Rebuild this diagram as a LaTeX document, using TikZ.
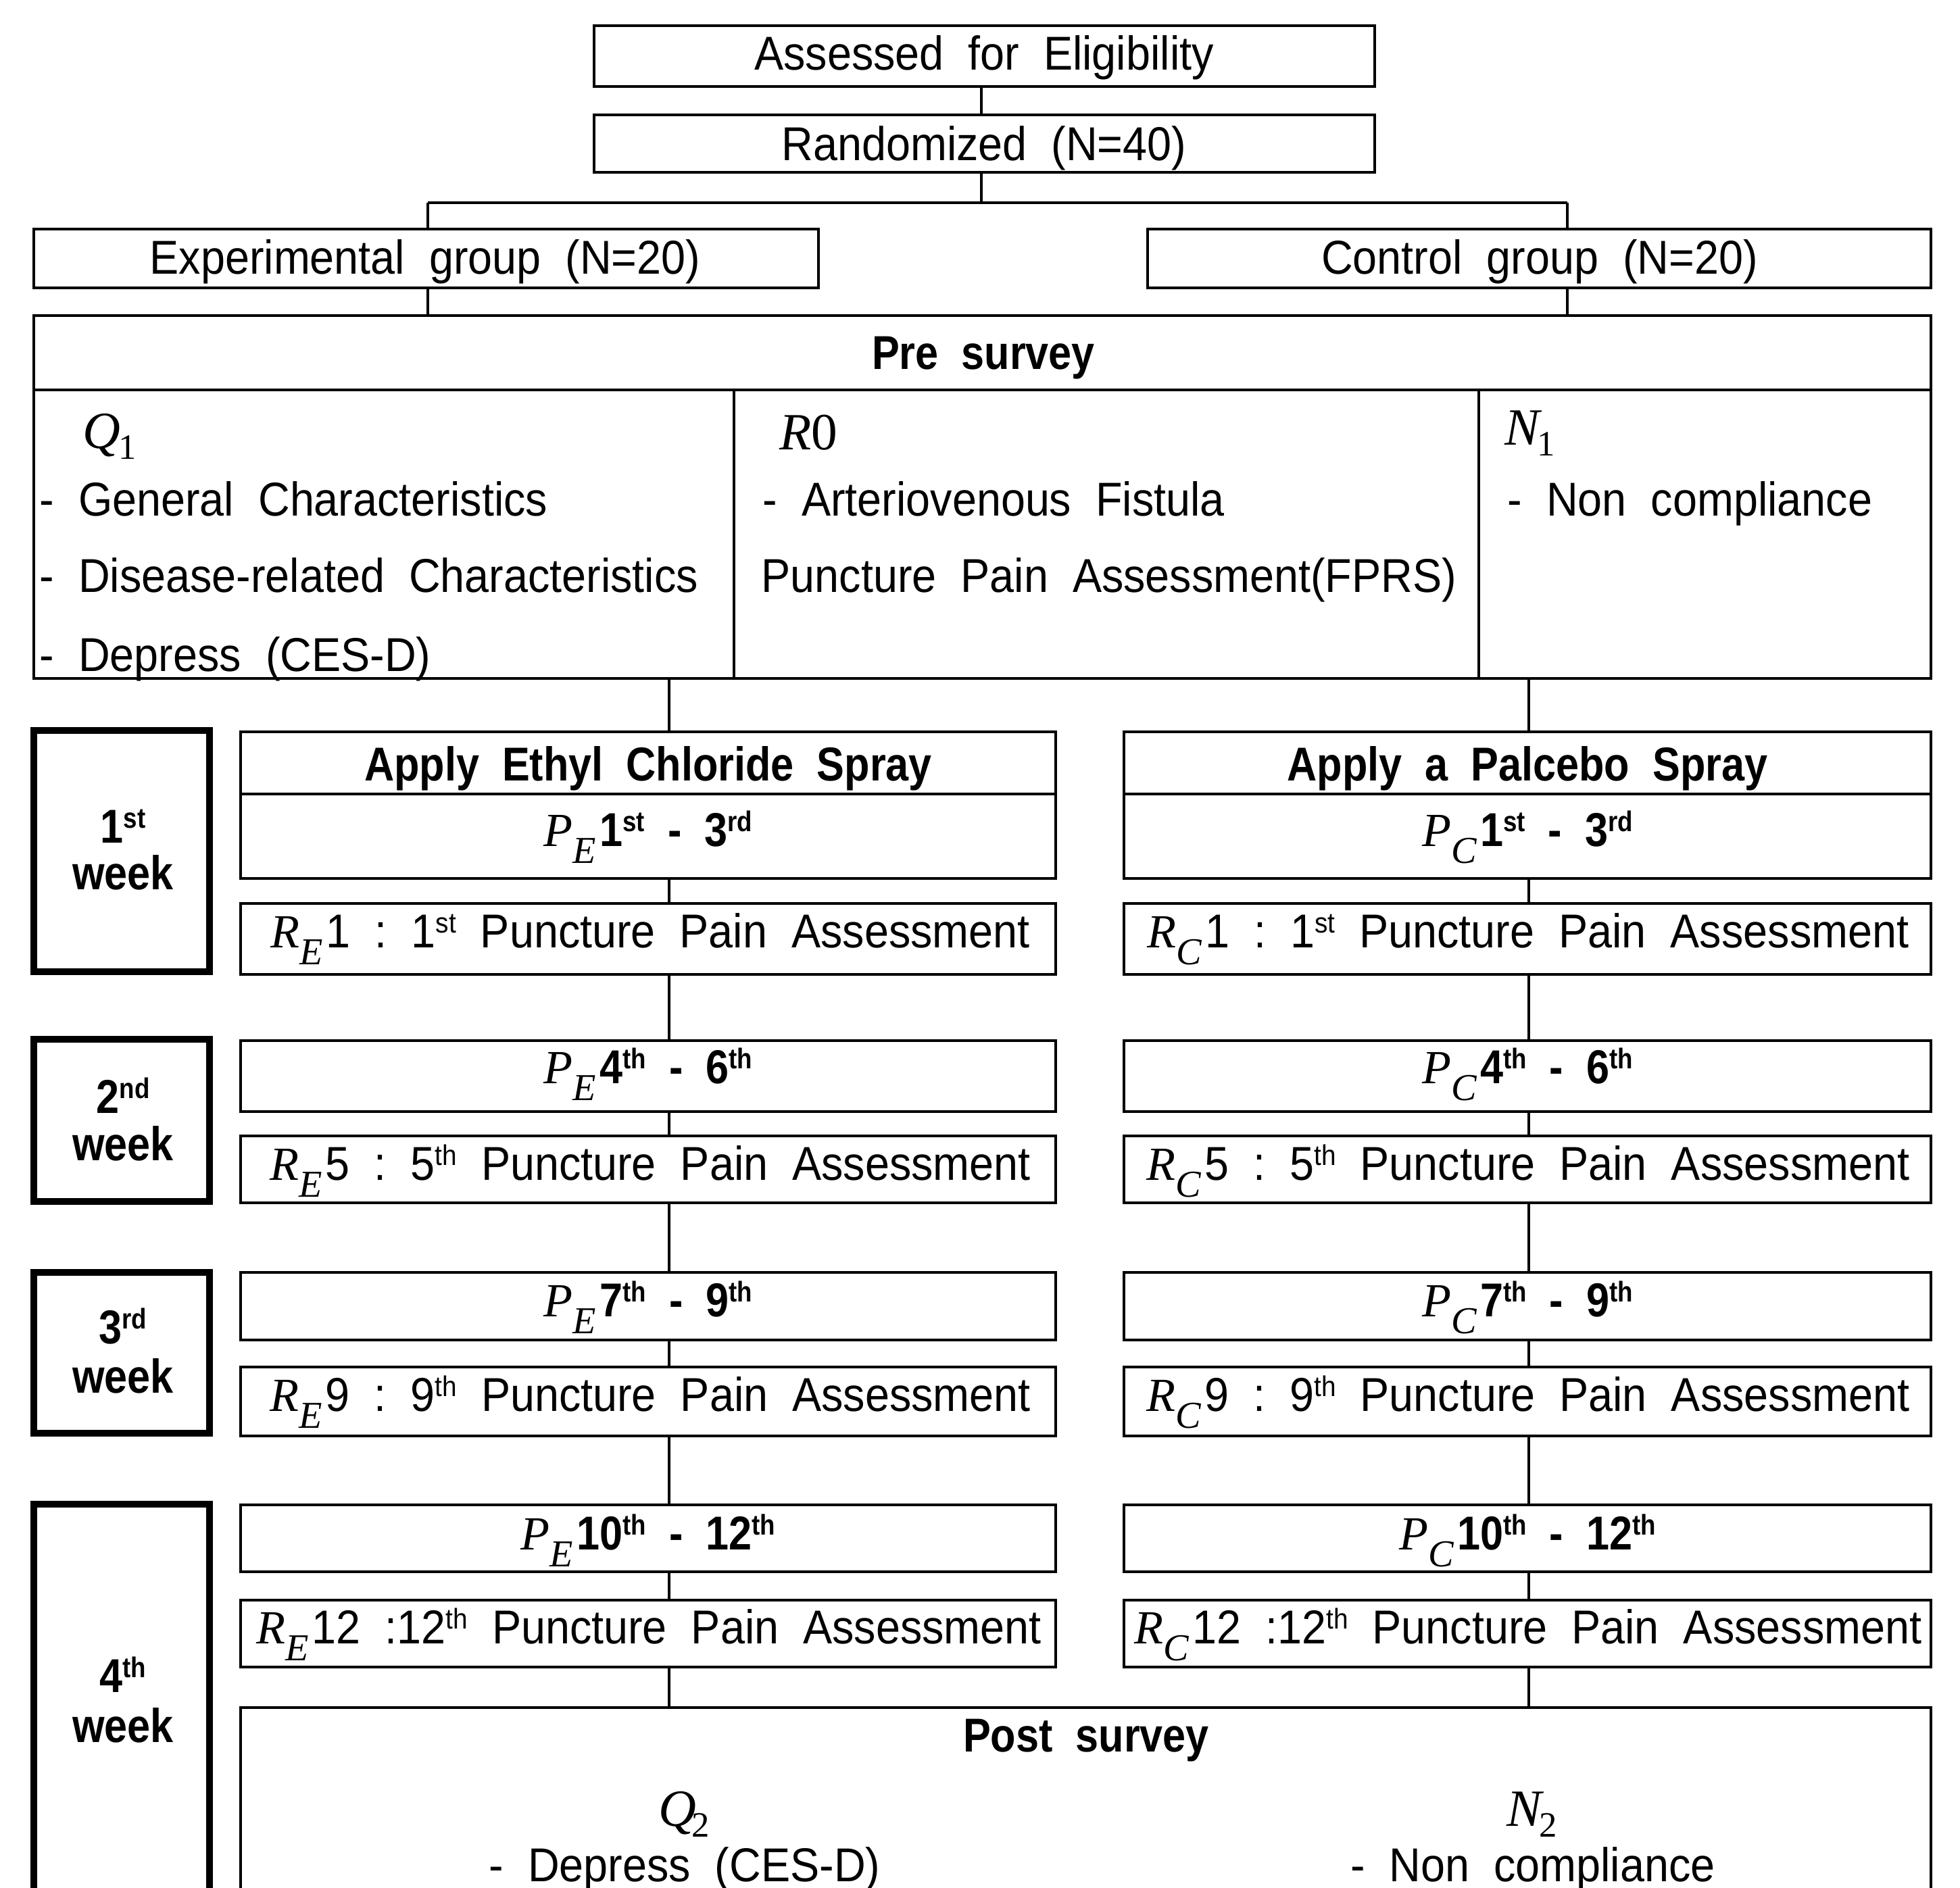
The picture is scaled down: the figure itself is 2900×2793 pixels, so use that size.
\documentclass[tikz,border=0pt]{standalone}
\usepackage{fontspec}
\setmainfont{Liberation Sans}[FakeStretch=0.92, BoldFeatures={FakeStretch=0.87}]
\newfontfamily\serfont{Liberation Serif}
\usetikzlibrary{fit}
% italic variable with subscript letter (P_E, R_C ...)
\newcommand\vsub[2]{{\serfont\mdseries\itshape #1}\raisebox{-0.25cm}{\fontsize{16}{16}\selectfont\serfont\mdseries\itshape #2}\kern1.5pt}
% italic variable with numeric subscript (Q_1, N_2 ...)
\newcommand\vnum[3][-1pt]{{\fontsize{22}{22}\selectfont\serfont\itshape #2}\kern#1\raisebox{-0.16cm}{\fontsize{15}{15}\selectfont\serfont #3}}
\newcommand\sups[1]{\raisebox{0.22cm}{\fontsize{12}{12}\selectfont #1}}
\begin{document}
\begin{tikzpicture}[x=0.01cm,y=-0.01cm,
  box/.style={draw, line width=1.15pt, inner sep=0pt, outer sep=0pt},
  wkbox/.style={draw, line width=2.6pt, inner sep=0pt, outer sep=0pt},
  conn/.style={line width=0.9pt},
  txt/.style={inner sep=0pt, anchor=base, font=\fontsize{20}{24}\selectfont},
  txtl/.style={txt, anchor=base west},
  btxt/.style={txt, font=\fontsize{20}{24}\selectfont\bfseries}]
\useasboundingbox (0,0) rectangle (2900,2793);
\clip (0,0) rectangle (2900,2793);
% top boxes
\node[box, fit={(879,38) (2034,128)}] (assess) {};
\node[box, fit={(879,170) (2034,255)}] (rand) {};
\node[box, fit={(50,339) (1211,426)}] (exp) {};
\node[box, fit={(1698,339) (2857,426)}] (ctrl) {};
\node[box, fit={(50,467) (2857,1004)}] (pre) {};
\draw[box] (50,577) -- (2857,577);
\draw[box] (1086,577) -- (1086,1004);
\draw[box] (2188,577) -- (2188,1004);
% week boxes
\node[wkbox, fit={(50,1081) (310,1438)}] (w1) {};
\node[wkbox, fit={(50,1538) (310,1778)}] (w2) {};
\node[wkbox, fit={(50,1883) (310,2121)}] (w3) {};
\node[wkbox, fit={(50,2226) (310,2950)}] (w4) {};
% left column
\node[box, fit={(356,1083) (1562,1175)}] (apE) {};
\node[box, fit={(356,1175) (1562,1300)}] (peA) {};
\node[box, fit={(356,1337) (1562,1442)}] (reA) {};
\node[box, fit={(356,1540) (1562,1645)}] (peB) {};
\node[box, fit={(356,1681) (1562,1780)}] (reB) {};
\node[box, fit={(356,1883) (1562,1983)}] (peC) {};
\node[box, fit={(356,2023) (1562,2125)}] (reC) {};
\node[box, fit={(356,2227) (1562,2326)}] (peD) {};
\node[box, fit={(356,2368) (1562,2467)}] (reD) {};
% right column
\node[box, fit={(1663,1083) (2857,1175)}] (apC) {};
\node[box, fit={(1663,1175) (2857,1300)}] (pcA) {};
\node[box, fit={(1663,1337) (2857,1442)}] (rcA) {};
\node[box, fit={(1663,1540) (2857,1645)}] (pcB) {};
\node[box, fit={(1663,1681) (2857,1780)}] (rcB) {};
\node[box, fit={(1663,1883) (2857,1983)}] (pcC) {};
\node[box, fit={(1663,2023) (2857,2125)}] (rcC) {};
\node[box, fit={(1663,2227) (2857,2326)}] (pcD) {};
\node[box, fit={(1663,2368) (2857,2467)}] (rcD) {};
\node[box, fit={(356,2527) (2857,2950)}] (post) {};
% connectors
\coordinate (mc) at (1452,0);
\coordinate (brM) at (1452,300);
\coordinate (brL) at (633,300);
\coordinate (brR) at (2319,300);
\coordinate (lc) at (990,0);
\coordinate (rc) at (2262,0);
\draw[conn] (assess.south -| mc) -- (rand.north -| mc);
\draw[conn] (rand.south -| mc) -- (brM);
\draw[box] (brL) -- (brR);
\draw[conn] (brL) -- (exp.north -| brL);
\draw[conn] (brR) -- (ctrl.north -| brR);
\draw[conn] (exp.south -| brL) -- (pre.north -| brL);
\draw[conn] (ctrl.south -| brR) -- (pre.north -| brR);
\draw[conn] (pre.south -| lc) -- (apE.north -| lc);
\draw[conn] (peA.south -| lc) -- (reA.north -| lc);
\draw[conn] (reA.south -| lc) -- (peB.north -| lc);
\draw[conn] (peB.south -| lc) -- (reB.north -| lc);
\draw[conn] (reB.south -| lc) -- (peC.north -| lc);
\draw[conn] (peC.south -| lc) -- (reC.north -| lc);
\draw[conn] (reC.south -| lc) -- (peD.north -| lc);
\draw[conn] (peD.south -| lc) -- (reD.north -| lc);
\draw[conn] (reD.south -| lc) -- (post.north -| lc);
\draw[conn] (pre.south -| rc) -- (apC.north -| rc);
\draw[conn] (pcA.south -| rc) -- (rcA.north -| rc);
\draw[conn] (rcA.south -| rc) -- (pcB.north -| rc);
\draw[conn] (pcB.south -| rc) -- (rcB.north -| rc);
\draw[conn] (rcB.south -| rc) -- (pcC.north -| rc);
\draw[conn] (pcC.south -| rc) -- (rcC.north -| rc);
\draw[conn] (rcC.south -| rc) -- (pcD.north -| rc);
\draw[conn] (pcD.south -| rc) -- (rcD.north -| rc);
\draw[conn] (rcD.south -| rc) -- (post.north -| rc);
% texts top
\node[txt] (tA) at (1456,103) {Assessed\ \ for\ \ Eligibility};
\node[txt] (tR) at (1456,237) {Randomized\ \ (N=40)};
\node[txt] (tE) at (629,405) {Experimental\ \ group\ \ (N=20)};
\node[txt] (tC) at (2278,405) {Control\ \ group\ \ (N=20)};
\node[btxt] (tP) at (1455,546) {Pre\ \ survey};
% pre survey contents
\node[txtl] (q1) at (122,663) {\vnum{Q}{1}};
\node[txtl] (q1a) at (58,763) {-\ \ General\ \ Characteristics};
\node[txtl] (q1b) at (58,876) {-\ \ Disease-related\ \ Characteristics};
\node[txtl] (q1c) at (58,993) {-\ \ Depress\ \ (CES-D)};
\node[txtl] (r0) at (1153,665) {{\fontsize{22}{22}\selectfont\serfont\itshape R\upshape 0}};
\node[txtl] (r0a) at (1128,763) {-\ \ Arteriovenous\ \ Fistula};
\node[txtl] (r0b) at (1126,876) {Puncture\ \ Pain\ \ Assessment(FPRS)};
\node[txtl] (n1) at (2226,658) {\vnum{N}{1}};
\node[txtl] (n1a) at (2230,763) {-\ \ Non\ \ compliance};
% week labels
\node[btxt] (w1a) at (182,1247) {1\sups{st}};
\node[btxt] (w1b) at (182,1316) {week};
\node[btxt] (w2a) at (182,1647) {2\sups{nd}};
\node[btxt] (w2b) at (182,1717) {week};
\node[btxt] (w3a) at (182,1988) {3\sups{rd}};
\node[btxt] (w3b) at (182,2061) {week};
\node[btxt] (w4a) at (182,2504) {4\sups{th}};
\node[btxt] (w4b) at (182,2578) {week};
% left column texts
\node[btxt] (tapE) at (959,1155) {Apply\ \ Ethyl\ \ Chloride\ \ Spray};
\node[btxt] (tpeA) at (959,1252) {\vsub{P}{E}1\sups{st}\ \ -\ \ 3\sups{rd}};
\node[txt] (treA) at (962,1402) {\vsub{R}{E}1\ \ :\ \ 1\sups{st}\ \ Puncture\ \ Pain\ \ Assessment};
\node[btxt] (tpeB) at (959,1603) {\vsub{P}{E}4\sups{th}\ \ -\ \ 6\sups{th}};
\node[txt] (treB) at (962,1746) {\vsub{R}{E}5\ \ :\ \ 5\sups{th}\ \ Puncture\ \ Pain\ \ Assessment};
\node[btxt] (tpeC) at (959,1948) {\vsub{P}{E}7\sups{th}\ \ -\ \ 9\sups{th}};
\node[txt] (treC) at (962,2088) {\vsub{R}{E}9\ \ :\ \ 9\sups{th}\ \ Puncture\ \ Pain\ \ Assessment};
\node[btxt] (tpeD) at (959,2293) {\vsub{P}{E}10\sups{th}\ \ -\ \ 12\sups{th}};
\node[txt] (treD) at (960,2432) {\vsub{R}{E}12\ \ :12\sups{th}\ \ Puncture\ \ Pain\ \ Assessment};
% right column texts
\node[btxt] (tapC) at (2260,1155) {Apply\ \ a\ \ Palcebo\ \ Spray};
\node[btxt] (tpcA) at (2260,1252) {\vsub{P}{C}1\sups{st}\ \ -\ \ 3\sups{rd}};
\node[txt] (trcA) at (2261,1402) {\vsub{R}{C}1\ \ :\ \ 1\sups{st}\ \ Puncture\ \ Pain\ \ Assessment};
\node[btxt] (tpcB) at (2260,1603) {\vsub{P}{C}4\sups{th}\ \ -\ \ 6\sups{th}};
\node[txt] (trcB) at (2261,1746) {\vsub{R}{C}5\ \ :\ \ 5\sups{th}\ \ Puncture\ \ Pain\ \ Assessment};
\node[btxt] (tpcC) at (2260,1948) {\vsub{P}{C}7\sups{th}\ \ -\ \ 9\sups{th}};
\node[txt] (trcC) at (2261,2088) {\vsub{R}{C}9\ \ :\ \ 9\sups{th}\ \ Puncture\ \ Pain\ \ Assessment};
\node[btxt] (tpcD) at (2260,2293) {\vsub{P}{C}10\sups{th}\ \ -\ \ 12\sups{th}};
\node[txt] (trcD) at (2261,2432) {\vsub{R}{C}12\ \ :12\sups{th}\ \ Puncture\ \ Pain\ \ Assessment};
% post survey
\node[btxt] (tpost) at (1607,2592) {Post\ \ survey};
\node[txt] (q2) at (1012,2702) {\vnum[-2pt]{Q}{2}};
\node[txt] (q2a) at (1013,2784) {-\ \ Depress\ \ (CES-D)};
\node[txt] (n2) at (2267,2702) {\vnum{N}{2}};
\node[txt] (n2a) at (2268,2784) {-\ \ Non\ \ compliance};
\end{tikzpicture}
\end{document}
